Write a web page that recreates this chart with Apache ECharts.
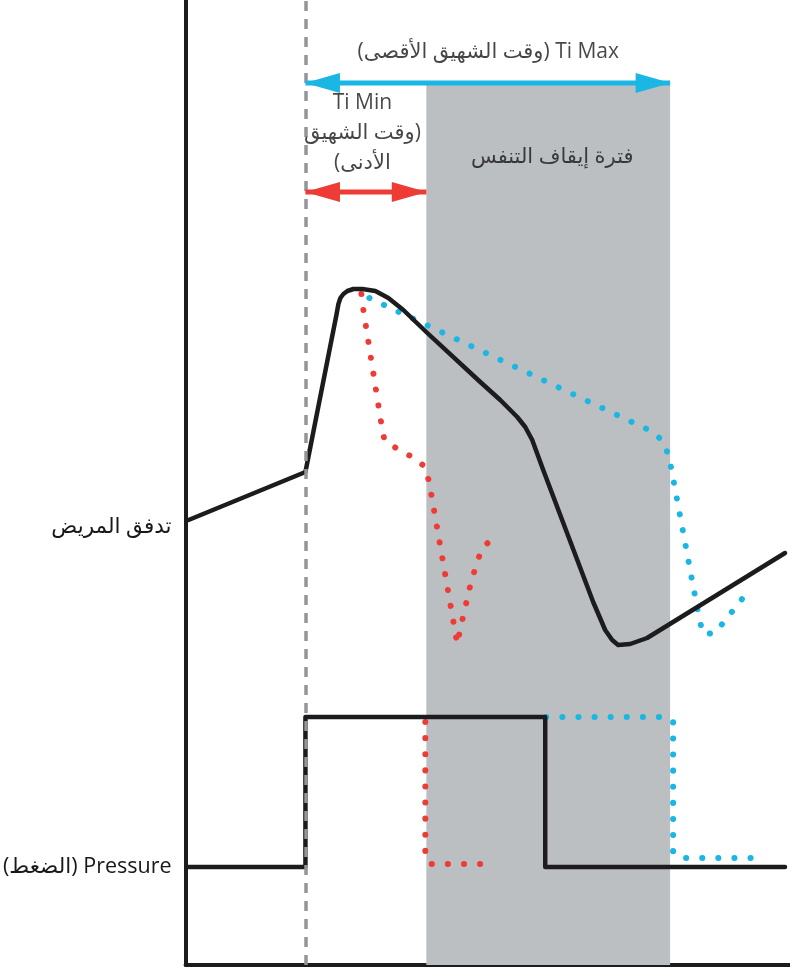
<!DOCTYPE html>
<html><head><meta charset="utf-8">
<script src="https://cdn.jsdelivr.net/npm/echarts@6/dist/echarts.min.js"></script>
<style>html,body{margin:0;padding:0;background:#fff}#c{width:790px;height:971px}</style>
</head><body><div id="c"></div>
<script>
// ---- data (time on x, signal level on y) ----
const patientFlowT = [3,120,151,153,155,158,162,168,177,190,203,218,242,295,315,332,340,347,358,408,420,427,433,445,462,475,600];
const patientFlowV = [445,493,650,661,667,671,674,676,676,674,667,655,632,583,565,548,538,525,495,363,335,325,320,321,327,335,412];
const tiMinFlowT = [176,178,196,199,212,227,240,244,272,275,286,296,307];
const tiMinFlowV = [671,655,541,525,516,508,498,482,321,336,384,415,427];
const tiMaxFlowT = [184,451,466,478,484,514,518,530,561];
const tiMaxFlowV = [667,541,534,524,508,347,331,332,371];
const pressureT = [3,120,120,360,360,600];
const pressureV = [98,98,248,248,98,98];
const tiMinPressureT = [240,240,246,297];
const tiMinPressureV = [243,107,101,101];
const tiMaxPressureT = [361,481,488,488,495,581];
const tiMaxPressureV = [248,248,243,113,107,107];
const breathStart = 120;          // start of inspiration (dashed marker)
const tiMinEnd = 241;             // end of Ti Min = start of pause window
const tiMaxEnd = 485;             // end of Ti Max
const pauseTop = 882;
const tiMaxArrowLevel = 882;
const tiMinArrowLevel = 773;
const rowLabelValues = [438, 98];
const rowLabels = ['تدفق المريض', '(الضغط) Pressure'];

const FONT = "'Open Sans','DejaVu Sans',sans-serif";
const INK = '#1a1718';
const BLUE = '#1ab6e4';
const RED = '#ee3b35';
const zip = (a, b) => a.map((t, i) => [t, b[i]]);

const solid = (w) => ({color: '#1c1b1d', width: w, join: 'round', cap: 'round'});
const dotted = (c) => ({color: c, width: 6, type: [0.1, 16], cap: 'round', join: 'round'});

function line(name, data, lineStyle, z) {
  return {type: 'line', name, data, showSymbol: false, symbol: 'none', lineStyle, z: z || 3, silent: true, animation: false};
}
function arrowHeads(t0, t1, v, color) {
  return {
    type: 'scatter', silent: true, z: 6, animation: false,
    symbol: 'triangle', symbolSize: [20, 35], itemStyle: {color, opacity: 1},
    data: [
      {value: [t0, v], symbolRotate: 90, symbolOffset: [17, 0]},
      {value: [t1, v], symbolRotate: -90, symbolOffset: [-17, 0]}
    ]
  };
}
const annotations = [
  {value: [303, 913], text: '(وقت الشهيق الأقصى) Ti Max'},
  {value: [177, 832], text: 'Ti Min\n\u200F(وقت الشهيق\nالأدنى)\u200F'},
  {value: [367, 808], text: 'فترة إيقاف التنفس'}
];

const chart = echarts.init(document.getElementById('c'), null, {renderer: 'canvas'});
chart.setOption({
  animation: false,
  backgroundColor: '#ffffff',
  grid: {left: 185, right: 0, top: 0, bottom: 6},
  xAxis: {
    type: 'value', min: 0, max: 605,
    axisLine: {show: true, onZero: false, lineStyle: {color: '#1c1b1d', width: 4}},
    axisTick: {show: false}, axisLabel: {show: false}, splitLine: {show: false}
  },
  yAxis: {
    type: 'value', min: 0, max: 965,
    axisLine: {show: true, onZero: false, lineStyle: {color: '#1c1b1d', width: 4}},
    axisTick: {show: false}, splitLine: {show: false},
    axisLabel: {
      show: true, customValues: rowLabelValues, margin: 14,
      fontSize: 21.5, fontFamily: FONT, color: INK,
      formatter: (v) => rowLabels[rowLabelValues.indexOf(v)] || ''
    }
  },
  series: [
    {
      type: 'line', data: [], z: 0, silent: true,
      markArea: {silent: true, itemStyle: {color: '#bcbfc2'},
        data: [[{xAxis: tiMinEnd, yAxis: 0}, {xAxis: tiMaxEnd, yAxis: pauseTop}]]},
      markLine: {silent: true, symbol: 'none', label: {show: false},
        lineStyle: {color: '#939598', width: 3.5, type: [10, 8]},
        data: [{xAxis: breathStart}]}
    },
    line('flow', zip(patientFlowT, patientFlowV), solid(4.5), 4),
    line('flowTiMin', zip(tiMinFlowT, tiMinFlowV), dotted(RED), 3),
    line('flowTiMax', zip(tiMaxFlowT, tiMaxFlowV), dotted(BLUE), 3),
    line('pressure', zip(pressureT, pressureV), solid(4.5), 4),
    line('pressureTiMin', zip(tiMinPressureT, tiMinPressureV), dotted(RED), 3),
    line('pressureTiMax', zip(tiMaxPressureT, tiMaxPressureV), dotted(BLUE), 3),
    line('tiMaxArrow', [[breathStart, tiMaxArrowLevel], [tiMaxEnd, tiMaxArrowLevel]], {color: BLUE, width: 5}, 5),
    arrowHeads(breathStart, tiMaxEnd, tiMaxArrowLevel, BLUE),
    line('tiMinArrow', [[breathStart, tiMinArrowLevel], [tiMinEnd, tiMinArrowLevel]], {color: RED, width: 5}, 5),
    arrowHeads(breathStart, tiMinEnd, tiMinArrowLevel, RED),
    {
      type: 'scatter', silent: true, z: 7, symbolSize: 0, animation: false,
      data: annotations.map(a => ({value: a.value, text: a.text})),
      label: {show: true, position: 'inside', fontSize: 21, lineHeight: 30, fontFamily: FONT, color: INK,
        align: 'center', formatter: (p) => p.data.text}
    }
  ]
});
</script></body></html>
